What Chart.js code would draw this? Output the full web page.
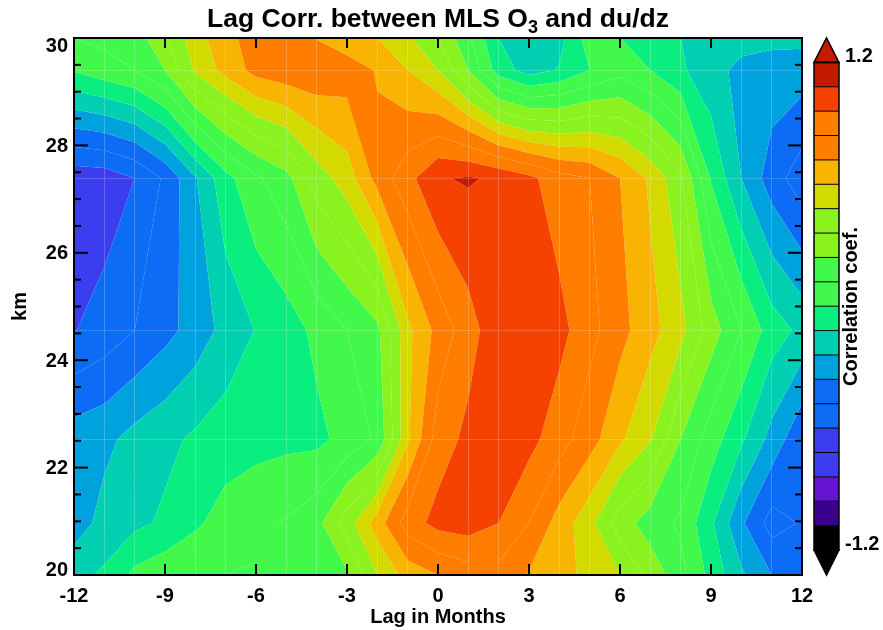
<!DOCTYPE html>
<html>
<head>
<meta charset="utf-8">
<script src="https://cdn.jsdelivr.net/npm/chart.js@4.4.1/dist/chart.umd.min.js"></script>
<style>
  html, body { margin: 0; background: #fff; }
  #wrap { width: 883px; height: 630px; }
</style>
</head>
<body>
<div id="wrap"><canvas id="lagChart" width="883" height="630"></canvas></div>
<script>
// Lag (months) and altitude (km) of the grid nodes
const lagMonths = [-12, -11, -10, -9, -8, -7, -6, -5, -4, -3, -2, -1, 0, 1, 2, 3, 4, 5, 6, 7, 8, 9, 10, 11, 12];
const heightsKm = [20.0, 20.97, 22.53, 24.56, 27.39, 29.40, 30.0];

// Correlation at each altitude, one value per lag
const corrKm20 = [-0.16, -0.10, 0.03, 0.08, 0.11, 0.12, 0.13, 0.12, 0.14, 0.22, 0.48, 0.65, 0.72, 0.78, 0.80, 0.71, 0.64, 0.57, 0.48, 0.32, 0.16, -0.04, -0.22, -0.36, -0.45];
const corrKm21 = [-0.30, -0.20, -0.15, -0.10, -0.02, 0.05, 0.09, 0.13, 0.20, 0.42, 0.66, 0.90, 1.00, 1.02, 0.96, 0.84, 0.67, 0.52, 0.30, 0.18, 0.10, -0.10, -0.34, -0.53, -0.47];
const corrKm22 = [-0.30, -0.27, -0.20, -0.15, -0.10, -0.06, -0.04, -0.03, -0.03, 0.04, 0.14, 0.58, 0.90, 0.99, 1.02, 1.00, 0.89, 0.77, 0.62, 0.49, 0.24, 0.06, -0.10, -0.28, -0.46];
const corrKm24 = [-0.605, -0.55, -0.48, -0.40, -0.31, -0.20, -0.115, -0.06, 0.03, 0.12, 0.21, 0.57, 0.76, 0.91, 1.04, 1.05, 1.00, 0.88, 0.76, 0.64, 0.52, 0.30, 0.12, -0.06, -0.15];
const corrKm27 = [-0.68, -0.67, -0.60, -0.46, -0.25, -0.04, 0.10, 0.20, 0.42, 0.54, 0.76, 0.92, 1.07, 1.092, 1.06, 0.99, 0.89, 0.84, 0.72, 0.58, 0.38, -0.01, -0.24, -0.42, -0.55];
const corrKm29 = [0.012, 0.066, 0.12, 0.24, 0.50, 0.64, 0.76, 0.80, 0.81, 0.78, 0.71, 0.60, 0.48, 0.24, -0.06, -0.17, -0.11, 0.00, 0.08, 0.00, -0.10, -0.20, -0.27, -0.29, -0.30];
const corrKm30 = [0.12, 0.15, 0.17, 0.35, 0.55, 0.68, 0.78, 0.80, 0.715, 0.65, 0.60, 0.50, 0.36, 0.14, -0.12, -0.20, -0.16, 0.06, 0.00, -0.06, -0.12, -0.17, -0.20, -0.21, -0.21];
const corrRows = [corrKm20, corrKm21, corrKm22, corrKm24, corrKm27, corrKm29, corrKm30];

// Contour levels and fill colours (first/last band are open ended)
const levels = [-1.2, -1.08, -0.96, -0.84, -0.72, -0.6, -0.48, -0.36, -0.24, -0.12, 0, 0.12, 0.24, 0.36, 0.48, 0.6, 0.72, 0.84, 0.96, 1.08, 1.2];
const levelColors = [
    '#000000', '#3c0090', '#6614d4', '#3c3cf0', '#3c3cf0',
    '#0c6cf6', '#0c6cf6', '#00a2de', '#00d0b2', '#0aee80',
    '#42f84a', '#42f84a', '#8af21e', '#8af21e', '#d2da00',
    '#f8b400', '#ff7e00', '#ff7e00', '#f54200', '#c41a00'
];

// Tick labels
const lagTicks = [-12, -9, -6, -3, 0, 3, 6, 9, 12];
const kmTicks = [20, 22, 24, 26, 28, 30];
const cbTicks = [-1.2, 1.2];

const FONT = '"Liberation Sans", Arial, sans-serif';
Chart.defaults.font.family = FONT;
Chart.defaults.font.size = 20;
Chart.defaults.font.weight = 'bold';
Chart.defaults.color = '#000';

// keep the part of a polygon where value >= t (above) or <= t
function clipPoly(poly, t, above) {
    const out = [];
    for (let i = 0; i < poly.length; i++) {
        const a = poly[i], b = poly[(i + 1) % poly.length];
        const inA = above ? a[2] >= t : a[2] <= t;
        const inB = above ? b[2] >= t : b[2] <= t;
        if (inA) out.push(a);
        if (inA !== inB) {
            const f = (t - a[2]) / (b[2] - a[2]);
            out.push([a[0] + f * (b[0] - a[0]), a[1] + f * (b[1] - a[1]), t]);
        }
    }
    return out;
}

function line(ctx, x1, y1, x2, y2) {
    ctx.beginPath();
    ctx.moveTo(x1, y1);
    ctx.lineTo(x2, y2);
    ctx.stroke();
}

const contourPlugin = {
    id: 'contourFill',
    beforeDatasetsDraw(chart) {
        const { ctx, scales: { x, y } } = chart;
        const nBands = levelColors.length;
        ctx.save();
        for (let j = 0; j < heightsKm.length - 1; j++) {
            for (let i = 0; i < lagMonths.length - 1; i++) {
                const cell = [
                    [lagMonths[i], heightsKm[j], corrRows[j][i]],
                    [lagMonths[i + 1], heightsKm[j], corrRows[j][i + 1]],
                    [lagMonths[i + 1], heightsKm[j + 1], corrRows[j + 1][i + 1]],
                    [lagMonths[i], heightsKm[j + 1], corrRows[j + 1][i]]
                ];
                for (let k = 0; k < nBands; k++) {
                    let poly = cell;
                    if (k > 0) poly = clipPoly(poly, levels[k], true);
                    if (k < nBands - 1 && poly.length) poly = clipPoly(poly, levels[k + 1], false);
                    if (poly.length < 3) continue;
                    ctx.beginPath();
                    poly.forEach((p, n) => {
                        const px = x.getPixelForValue(p[0]);
                        const py = y.getPixelForValue(p[1]);
                        if (n === 0) ctx.moveTo(px, py); else ctx.lineTo(px, py);
                    });
                    ctx.closePath();
                    ctx.fillStyle = levelColors[k];
                    ctx.fill();
                }
            }
        }
        ctx.restore();
    },
    afterDraw(chart) {
        const { ctx, chartArea: { left, right, top, bottom }, scales: { x, y, cb } } = chart;
        ctx.save();

        // frame and inward ticks
        ctx.strokeStyle = '#000';
        ctx.lineWidth = 2;
        ctx.strokeRect(left, top, right - left, bottom - top);
        lagTicks.forEach(v => {
            const px = x.getPixelForValue(v);
            line(ctx, px, bottom, px, bottom - 11);
            line(ctx, px, top, px, top + 10);
        });
        for (let v = 20; v <= 30.001; v += 0.5) {
            const py = y.getPixelForValue(v);
            const len = Math.abs(v % 2) < 0.01 ? 14 : 7;
            line(ctx, left, py, left + len, py);
            line(ctx, right, py, right - len, py);
        }

        // y tick labels (end labels pulled inside like the original)
        ctx.fillStyle = '#000';
        ctx.font = 'bold 20px ' + FONT;
        ctx.textAlign = 'right';
        ctx.textBaseline = 'middle';
        kmTicks.forEach(v => {
            let py = y.getPixelForValue(v);
            py = Math.min(Math.max(py, top + 7), bottom - 6);
            ctx.fillText(String(v), left - 6, py + 1);
        });

        // axis titles
        ctx.textAlign = 'center';
        ctx.fillText('Lag in Months', (left + right) / 2, 617);
        ctx.save();
        ctx.translate(20, (top + bottom) / 2);
        ctx.rotate(-Math.PI / 2);
        ctx.fillText('km', 0, 0);
        ctx.restore();

        // main title with subscript
        const t1 = 'Lag Corr. between MLS O', t2 = '3', t3 = ' and du/dz';
        const big = 'bold 26.5px ' + FONT, small = 'bold 18px ' + FONT;
        ctx.font = big;
        const w1 = ctx.measureText(t1).width, w3 = ctx.measureText(t3).width;
        ctx.font = small;
        const w2 = ctx.measureText(t2).width;
        let tx = (left + right) / 2 - (w1 + w2 + w3) / 2;
        ctx.textAlign = 'left';
        ctx.textBaseline = 'alphabetic';
        ctx.font = big;
        ctx.fillText(t1, tx, 27);
        ctx.font = small;
        ctx.fillText(t2, tx + w1, 33);
        ctx.font = big;
        ctx.fillText(t3, tx + w1 + w2, 27);

        // colour bar
        const bx = right + 12, bw = 25, cx = bx + bw / 2;
        const nBands = levelColors.length;
        for (let k = 0; k < nBands; k++) {
            const y0 = cb.getPixelForValue(levels[k]);
            const y1 = cb.getPixelForValue(levels[k + 1]);
            ctx.fillStyle = levelColors[k];
            ctx.fillRect(bx, y1, bw, y0 - y1);
        }
        const yTop = cb.getPixelForValue(levels[levels.length - 1]);
        const yBot = cb.getPixelForValue(levels[0]);
        ctx.lineWidth = 1.5;
        ctx.beginPath();
        ctx.moveTo(bx, yTop);
        ctx.lineTo(cx, cb.getPixelForValue(cb.max));
        ctx.lineTo(bx + bw, yTop);
        ctx.closePath();
        ctx.fillStyle = levelColors[nBands - 1];
        ctx.fill();
        ctx.stroke();
        ctx.beginPath();
        ctx.moveTo(bx, yBot);
        ctx.lineTo(cx, cb.getPixelForValue(cb.min));
        ctx.lineTo(bx + bw, yBot);
        ctx.closePath();
        ctx.fillStyle = levelColors[0];
        ctx.fill();
        ctx.stroke();
        ctx.lineWidth = 1;
        levels.forEach(v => {
            const py = cb.getPixelForValue(v);
            line(ctx, bx, py, bx + bw, py);
        });
        ctx.lineWidth = 1.5;
        ctx.strokeRect(bx, yTop, bw, yBot - yTop);

        ctx.fillStyle = '#000';
        ctx.font = 'bold 20px ' + FONT;
        ctx.textAlign = 'left';
        ctx.textBaseline = 'middle';
        cbTicks.forEach(v => {
            ctx.fillText(v.toFixed(1), bx + bw + 6, cb.getPixelForValue(v) - 6);
        });
        ctx.textAlign = 'center';
        ctx.save();
        ctx.translate(851, (top + bottom) / 2);
        ctx.rotate(-Math.PI / 2);
        ctx.fillText('Correlation coef.', 0, 0);
        ctx.restore();

        ctx.restore();
    }
};

const lagChart = new Chart(document.getElementById('lagChart'), {
    type: 'scatter',
    data: {
        datasets: [{
            label: 'grid',
            data: [],
            pointRadius: 0
        }]
    },
    options: {
        responsive: false,
        animation: false,
        devicePixelRatio: 1,
        layout: { padding: { top: 38, right: 81, left: 0, bottom: 0 } },
        plugins: {
            legend: { display: false },
            tooltip: { enabled: false }
        },
        scales: {
            x: {
                type: 'linear',
                min: -12,
                max: 12,
                afterBuildTicks: s => { s.ticks = lagTicks.map(v => ({ value: v })); },
                ticks: { padding: 9, maxRotation: 0, autoSkip: false },
                grid: { display: false, drawTicks: false },
                border: { display: false },
                afterFit: s => { s.height = 55; }
            },
            y: {
                type: 'linear',
                min: 20,
                max: 30,
                ticks: { display: false },
                grid: { display: false, drawTicks: false },
                border: { display: false },
                afterFit: s => { s.width = 74; }
            },
            cb: {
                type: 'linear',
                position: 'right',
                display: false,
                min: -1.323,
                max: 1.32
            }
        }
    },
    plugins: [contourPlugin]
});
</script>
</body>
</html>
